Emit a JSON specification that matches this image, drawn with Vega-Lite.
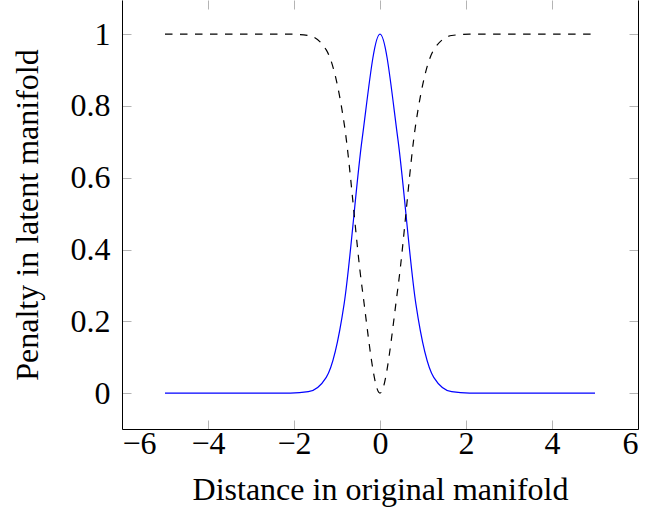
{
  "$schema": "https://vega.github.io/schema/vega-lite/v6.json",
  "width": 516,
  "height": 429,
  "autosize": "none",
  "padding": {"left": 122, "top": 0, "right": 10, "bottom": 87},
  "background": "white",
  "config": {
    "view": {"stroke": null},
    "font": "Liberation Serif, Times New Roman, serif",
    "axis": {
      "grid": false,
      "domainColor": "#000000",
      "domainWidth": 1,
      "tickColor": "#b4b4b4",
      "tickWidth": 1,
      "tickSize": -9,
      "labelFont": "Liberation Serif, Times New Roman, serif",
      "labelFontSize": 32,
      "labelColor": "#000000",
      "titleFont": "Liberation Serif, Times New Roman, serif",
      "titleFontSize": 32,
      "titleFontWeight": "normal",
      "titleColor": "#000000"
    }
  },
  "datasets": {
    "gauss": [
      {"x": -5, "y": 0}, {"x": -4.5833, "y": 0}, {"x": -4.1667, "y": 0}, {"x": -3.75, "y": 0},
      {"x": -3.3333, "y": 0}, {"x": -2.9167, "y": 0.00000004}, {"x": -2.5, "y": 0.0000037},
      {"x": -2.0833, "y": 0.00017}, {"x": -1.6667, "y": 0.00387}, {"x": -1.25, "y": 0.04394},
      {"x": -0.8333, "y": 0.24935}, {"x": -0.4167, "y": 0.70664}, {"x": 0, "y": 1},
      {"x": 0.4167, "y": 0.70664}, {"x": 0.8333, "y": 0.24935}, {"x": 1.25, "y": 0.04394},
      {"x": 1.6667, "y": 0.00387}, {"x": 2.0833, "y": 0.00017}, {"x": 2.5, "y": 0.0000037},
      {"x": 2.9167, "y": 0.00000004}, {"x": 3.3333, "y": 0}, {"x": 3.75, "y": 0},
      {"x": 4.1667, "y": 0}, {"x": 4.5833, "y": 0}, {"x": 5, "y": 0}
    ],
    "penalty": [
      {"x": -5, "y": 1}, {"x": -4.5833, "y": 1}, {"x": -4.1667, "y": 1}, {"x": -3.75, "y": 1},
      {"x": -3.3333, "y": 1}, {"x": -2.9167, "y": 1}, {"x": -2.5, "y": 0.999996},
      {"x": -2.0833, "y": 0.99983}, {"x": -1.6667, "y": 0.99613}, {"x": -1.25, "y": 0.95606},
      {"x": -0.8333, "y": 0.75065}, {"x": -0.4167, "y": 0.29336}, {"x": 0, "y": 0},
      {"x": 0.4167, "y": 0.29336}, {"x": 0.8333, "y": 0.75065}, {"x": 1.25, "y": 0.95606},
      {"x": 1.6667, "y": 0.99613}, {"x": 2.0833, "y": 0.99983}, {"x": 2.5, "y": 0.999996},
      {"x": 2.9167, "y": 1}, {"x": 3.3333, "y": 1}, {"x": 3.75, "y": 1},
      {"x": 4.1667, "y": 1}, {"x": 4.5833, "y": 1}, {"x": 5, "y": 1}
    ]
  },
  "layer": [
    {
      "data": {"name": "gauss"},
      "mark": {"type": "line", "color": "#0000ff", "strokeWidth": 1.2, "interpolate": "monotone"},
      "encoding": {
        "x": {
          "field": "x", "type": "quantitative",
          "scale": {"domain": [-6, 6], "nice": false, "zero": false},
          "axis": {"orient": "bottom", "values": [-6, -4, -2, 0, 2, 4, 6], "format": "d",
                   "labelPadding": 8, "title": "Distance in original manifold", "titlePadding": 15}
        },
        "y": {
          "field": "y", "type": "quantitative",
          "scale": {"domain": [-0.1, 1.095], "nice": false, "zero": false},
          "axis": {"orient": "left", "values": [0, 0.2, 0.4, 0.6, 0.8, 1], "format": ".1~f",
                   "labelPadding": 21, "title": "Penalty in latent manifold", "titlePadding": 26}
        }
      }
    },
    {
      "data": {"name": "penalty"},
      "mark": {"type": "line", "color": "#000000", "strokeWidth": 1.2, "strokeDash": [7.5, 7.5], "interpolate": "monotone"},
      "encoding": {
        "x": {
          "field": "x", "type": "quantitative",
          "axis": {"orient": "top", "values": [-6, -4, -2, 0, 2, 4, 6], "labels": false, "domain": false, "title": null}
        },
        "y": {
          "field": "y", "type": "quantitative",
          "axis": {"orient": "right", "values": [0, 0.2, 0.4, 0.6, 0.8, 1], "labels": false, "title": null}
        }
      }
    }
  ],
  "resolve": {"axis": {"x": "independent", "y": "independent"}}
}
